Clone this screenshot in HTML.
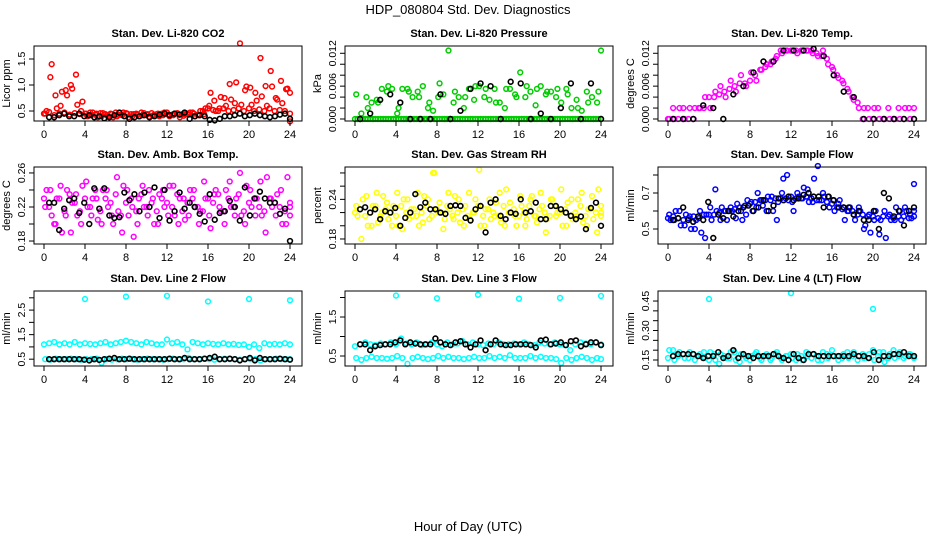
<!DOCTYPE html>
<html><head><meta charset="utf-8"><style>
html,body{margin:0;padding:0;background:#fff;}
svg{display:block;font-family:"Liberation Sans",Arial,sans-serif;}
</style></head>
<body>
<svg id="c" width="936" height="540" viewBox="0 0 936 540">
<text x="468" y="14" text-anchor="middle" font-size="13">HDP_080804  Std. Dev. Diagnostics</text>
<text x="468" y="531" text-anchor="middle" font-size="13">Hour of Day (UTC)</text>
</svg>
<script>
const xTicks=[0,4,8,12,16,20,24];
const co2A=[0.45,1.15,0.8,0.6,0.9,1.0,1.2,0.5,0.45,0.42,0.45,0.4,0.42,0.44,0.4,0.42,0.45,0.4,0.43,0.42,0.44,0.41,0.45,0.42,0.43,0.42,0.44,0.41,0.43,0.45,0.42,0.44,0.6,0.7,0.55,0.75,1.02,0.65,1.8,0.9,0.95,0.85,1.52,0.98,1.27,0.75,1.08,0.92,0.85];
const co2B=[0.5,1.4,0.55,0.87,0.8,0.93,0.62,0.68,0.4,0.47,0.38,0.46,0.4,0.38,0.43,0.47,0.38,0.44,0.4,0.46,0.39,0.43,0.4,0.47,0.4,0.45,0.38,0.44,0.47,0.4,0.5,0.55,0.85,0.5,0.77,0.6,0.72,1.05,0.62,0.97,0.62,0.7,0.78,0.6,0.97,0.72,0.65,0.93,0.3];
const co2C=[0.45,0.48,0.42,0.45,0.47,0.43,0.46,0.44,0.45,0.47,0.43,0.46,0.44,0.45,0.47,0.43,0.46,0.44,0.45,0.47,0.43,0.46,0.44,0.45,0.47,0.43,0.46,0.44,0.45,0.47,0.43,0.5,0.55,0.52,0.5,0.55,0.5,0.52,0.55,0.5,0.55,0.5,0.53,0.5,0.55,0.5,0.52,0.5,0.45];
const co2K=[0.38,0.38,0.42,0.45,0.4,0.4,0.45,0.4,0.42,0.38,0.4,0.36,0.38,0.42,0.47,0.4,0.35,0.38,0.4,0.42,0.38,0.4,0.43,0.45,0.42,0.45,0.43,0.47,0.35,0.4,0.42,0.4,0.33,0.32,0.35,0.4,0.4,0.42,0.45,0.4,0.42,0.45,0.42,0.4,0.38,0.4,0.43,0.45,0.35];
const presA=[0.0045,0.001,0.004,0.003,0.0035,0.0055,0.005,0.0055,0.001,0.0055,0.0055,0.004,0.005,0.006,0.002,0.0015,0.004,0.0045,0.0125,0.003,0.004,0.002,0.0055,0.0035,0.006,0.004,0.0035,0.0055,0.003,0.002,0.0055,0.0045,0.0085,0.004,0.005,0.0025,0.006,0.0045,0.005,0.004,0.003,0.0055,0.002,0.0035,0.0015,0.005,0.004,0.003,0.0125];
const presB=[0,0,0.002,0,0.003,0,0.006,0,0.002,0,0.005,0,0.004,0,0.003,0,0.0065,0,0,0.005,0,0.004,0,0.006,0,0.0055,0,0.003,0,0.0055,0,0.004,0,0.006,0,0.0055,0,0.005,0,0.0055,0,0.0045,0,0.002,0,0.003,0,0.005,0];
const presC=[0,0,0,0,0,0,0,0,0,0,0,0,0,0,0,0,0,0,0,0,0,0,0,0,0,0,0,0,0,0,0,0,0,0,0,0,0,0,0,0,0,0,0,0,0,0,0,0,0,0,0,0,0,0,0,0,0,0,0,0,0,0,0,0,0,0,0,0,0,0,0,0,0,0,0,0,0,0,0,0,0,0,0,0,0,0,0,0,0,0,0,0,0,0,0,0,0];
const presK=[0,0.001,0.0035,0.0045,0.003,0,0,0,0.0045,0,0.0015,0.0055,0.0065,0.006,0,0.0068,0.0065,0,0.001,0,0.002,0.0065,0,0.0065,0];
const tempA=[0,0.002,0,0.002,0,0,0.002,0.002,0.004,0.004,0.0045,0.005,0.0055,0.006,0.0065,0.0065,0.007,0.008,0.009,0.0095,0.010,0.011,0.0125,0.0125,0.0125,0.0125,0.0125,0.0125,0.0125,0.012,0.0115,0.011,0.0095,0.008,0.007,0.0055,0.004,0.003,0,0.002,0,0.002,0,0.002,0,0.002,0,0.002,0.002];
const tempB=[0,0,0.002,0,0.002,0.002,0.002,0.004,0.002,0.005,0.006,0.004,0.007,0.005,0.008,0.006,0.0085,0.007,0.009,0.01,0.0105,0.0115,0.012,0.0125,0.0125,0.012,0.0125,0.0125,0.012,0.0115,0.0125,0.01,0.009,0.0075,0.0065,0.005,0.0035,0.002,0.002,0,0.002,0,0,0,0,0,0.002,0,0];
const tempK=[0,0,0,0.0025,0.002,0,0.0045,0.006,0.0085,0.0105,0.0105,0.0125,0.0125,0.0125,0.0128,0.0115,0.008,0.005,0.004,0,0,0,0,0,0];
const ambA=[0.22,0.24,0.2,0.245,0.21,0.19,0.235,0.2,0.25,0.21,0.23,0.2,0.24,0.21,0.255,0.19,0.24,0.22,0.2,0.245,0.21,0.23,0.2,0.24,0.21,0.245,0.2,0.23,0.21,0.24,0.2,0.25,0.21,0.235,0.22,0.2,0.25,0.21,0.26,0.2,0.24,0.21,0.25,0.19,0.23,0.21,0.24,0.2,0.22];
const ambB=[0.24,0.21,0.23,0.19,0.24,0.225,0.21,0.245,0.22,0.23,0.205,0.24,0.22,0.2,0.215,0.245,0.21,0.185,0.23,0.22,0.24,0.2,0.235,0.22,0.245,0.21,0.23,0.205,0.24,0.22,0.215,0.23,0.195,0.24,0.215,0.24,0.22,0.23,0.21,0.245,0.22,0.23,0.21,0.255,0.22,0.235,0.2,0.255,0.21];
const ambC=[0.23,0.22,0.2,0.23,0.215,0.235,0.225,0.215,0.23,0.22,0.24,0.215,0.23,0.225,0.235,0.21,0.225,0.23,0.215,0.235,0.22,0.225,0.215,0.23,0.225,0.22,0.235,0.215,0.225,0.23,0.22,0.215,0.23,0.225,0.235,0.215,0.23,0.22,0.235,0.215,0.225,0.23,0.22,0.215,0.23,0.225,0.22,0.215,0.225];
const ambK=[0.225,0.225,0.193,0.218,0.228,0.23,0.213,0.225,0.2,0.242,0.218,0.242,0.21,0.207,0.208,0.237,0.228,0.235,0.215,0.237,0.22,0.243,0.207,0.24,0.204,0.215,0.237,0.218,0.225,0.22,0.212,0.203,0.235,0.205,0.213,0.215,0.227,0.22,0.204,0.243,0.21,0.23,0.238,0.23,0.225,0.225,0.212,0.218,0.18];
const rhA=[0.23,0.18,0.245,0.2,0.25,0.22,0.235,0.2,0.25,0.195,0.24,0.215,0.25,0.205,0.24,0.28,0.22,0.195,0.25,0.21,0.24,0.2,0.25,0.22,0.285,0.2,0.24,0.215,0.25,0.2,0.235,0.215,0.245,0.2,0.24,0.215,0.25,0.19,0.24,0.215,0.255,0.2,0.24,0.215,0.25,0.2,0.245,0.19,0.23];
const rhB=[0.215,0.24,0.2,0.23,0.205,0.245,0.21,0.23,0.2,0.24,0.21,0.225,0.2,0.245,0.21,0.28,0.235,0.21,0.225,0.245,0.205,0.23,0.21,0.24,0.2,0.225,0.21,0.235,0.205,0.255,0.22,0.2,0.23,0.21,0.245,0.205,0.23,0.21,0.24,0.22,0.2,0.235,0.21,0.24,0.205,0.225,0.21,0.255,0.22];
const rhC=[0.22,0.225,0.215,0.22,0.23,0.215,0.225,0.22,0.215,0.23,0.22,0.225,0.215,0.22,0.23,0.215,0.225,0.22,0.23,0.215,0.22,0.225,0.215,0.22,0.23,0.215,0.225,0.22,0.215,0.23,0.22,0.225,0.215,0.22,0.23,0.215,0.225,0.22,0.215,0.23,0.22,0.225,0.215,0.22,0.23,0.215,0.225,0.22,0.215];
const rhK=[0.225,0.228,0.22,0.225,0.21,0.222,0.22,0.227,0.2,0.212,0.22,0.248,0.228,0.235,0.225,0.225,0.22,0.218,0.23,0.231,0.23,0.212,0.208,0.225,0.23,0.19,0.235,0.24,0.215,0.21,0.22,0.218,0.24,0.22,0.222,0.235,0.21,0.21,0.23,0.23,0.225,0.22,0.215,0.21,0.214,0.195,0.227,0.235,0.2];
const sfA=[0.58,0.55,0.6,0.52,0.57,0.5,0.6,0.45,0.62,0.72,0.55,0.6,0.62,0.56,0.6,0.58,0.65,0.62,0.66,0.6,0.68,0.55,0.7,0.8,0.65,0.7,0.67,0.72,0.65,0.85,0.7,0.68,0.66,0.64,0.62,0.6,0.58,0.62,0.5,0.58,0.55,0.47,0.6,0.58,0.55,0.6,0.62,0.58,0.75];
const sfB=[0.55,0.6,0.52,0.58,0.5,0.55,0.48,0.58,0.55,0.6,0.62,0.55,0.6,0.64,0.55,0.66,0.6,0.7,0.63,0.68,0.6,0.65,0.78,0.66,0.6,0.68,0.73,0.65,0.78,0.66,0.68,0.62,0.6,0.66,0.55,0.62,0.55,0.6,0.52,0.48,0.6,0.55,0.45,0.55,0.62,0.55,0.6,0.56,0.6];
const sfC=[0.56,0.57,0.56,0.55,0.56,0.57,0.56,0.58,0.58,0.58,0.59,0.6,0.6,0.61,0.62,0.63,0.64,0.65,0.66,0.66,0.66,0.67,0.67,0.67,0.68,0.67,0.67,0.68,0.67,0.66,0.66,0.65,0.64,0.62,0.61,0.6,0.6,0.58,0.58,0.57,0.57,0.56,0.57,0.57,0.56,0.57,0.57,0.56,0.57];
const sfK=[0.55,0.56,0.62,0.55,0.54,0.57,0.55,0.65,0.45,0.58,0.56,0.6,0.57,0.6,0.62,0.63,0.6,0.62,0.66,0.6,0.63,0.67,0.66,0.68,0.66,0.67,0.69,0.7,0.68,0.68,0.62,0.68,0.66,0.62,0.62,0.62,0.58,0.6,0.55,0.55,0.6,0.5,0.7,0.67,0.57,0.6,0.52,0.6,0.62];
const l2A=[1.1,1.15,1.2,1.1,1.15,1.1,1.2,1.1,1.15,1.12,1.1,1.15,1.2,1.1,1.15,1.2,1.25,1.2,1.15,1.1,1.2,1.15,1.1,1.1,1.3,1.15,1.2,1.1,0.9,1.2,1.15,1.1,1.15,1.12,1.1,1.15,1.1,1.12,1.08,1.1,1.0,1.1,0.95,1.15,1.1,1.12,1.1,1.15,1.1];
const l2B=[0.5,0.48,0.52,0.5,0.5,0.52,0.5,0.48,0.5,0.5,0.52,0.35,0.5,0.48,0.5,0.52,0.5,0.5,0.48,0.5,0.52,0.5,0.5,0.48,0.5,0.52,0.5,0.5,0.55,0.5,0.5,0.52,0.5,0.48,0.5,0.52,0.5,0.5,0.48,0.5,0.5,0.5,0.45,0.5,0.5,0.52,0.5,0.5,0.5];
const l2K=[0.5,0.5,0.5,0.5,0.5,0.5,0.5,0.48,0.45,0.5,0.47,0.5,0.52,0.55,0.5,0.5,0.52,0.5,0.5,0.5,0.5,0.5,0.5,0.5,0.52,0.5,0.5,0.55,0.5,0.5,0.5,0.52,0.55,0.6,0.5,0.5,0.52,0.5,0.45,0.5,0.55,0.45,0.55,0.5,0.5,0.5,0.52,0.5,0.48];
const spikeHours=[4,8,12,16,20,24];
const l2Spikes=[2.95,3.05,3.08,2.85,2.95,2.9];
const l3A=[0.75,0.8,0.85,0.8,0.78,0.82,0.8,0.85,0.8,0.95,0.82,0.8,0.85,0.78,0.8,0.85,0.8,0.75,0.85,0.8,0.82,0.88,0.8,0.85,0.8,0.78,0.82,0.8,0.85,0.8,0.8,0.82,0.8,0.85,0.8,0.78,0.85,0.82,0.8,0.85,0.8,0.78,0.65,0.8,0.85,0.82,0.8,0.85,0.8];
const l3B=[0.45,0.4,0.45,0.48,0.45,0.45,0.43,0.45,0.5,0.45,0.3,0.45,0.48,0.45,0.42,0.45,0.5,0.45,0.48,0.45,0.45,0.42,0.45,0.48,0.45,0.45,0.5,0.45,0.48,0.45,0.52,0.45,0.45,0.45,0.5,0.45,0.48,0.45,0.45,0.42,0.32,0.45,0.4,0.45,0.48,0.45,0.4,0.45,0.42];
const l3K=[0.8,0.8,0.65,0.75,0.78,0.8,0.8,0.85,0.9,0.8,0.85,0.82,0.8,0.8,0.8,0.95,0.85,0.8,0.78,0.85,0.88,0.8,0.72,0.8,0.9,0.65,0.8,0.9,0.8,0.78,0.78,0.8,0.8,0.8,0.78,0.72,0.9,0.92,0.8,0.82,0.85,0.78,0.88,0.9,0.75,0.8,0.85,0.85,0.78];
const l3Spikes=[2.05,1.98,2.07,1.97,1.99,2.04];
const l4A=[0.16,0.2,0.17,0.18,0.16,0.18,0.17,0.19,0.15,0.18,0.13,0.17,0.16,0.19,0.14,0.17,0.15,0.18,0.16,0.17,0.15,0.18,0.16,0.17,0.18,0.15,0.17,0.19,0.16,0.17,0.15,0.18,0.2,0.17,0.16,0.19,0.17,0.15,0.18,0.16,0.2,0.17,0.19,0.16,0.2,0.17,0.16,0.18,0.16];
const l4B=[0.2,0.15,0.19,0.16,0.19,0.15,0.18,0.16,0.19,0.15,0.18,0.16,0.19,0.15,0.18,0.16,0.17,0.19,0.15,0.18,0.16,0.19,0.15,0.17,0.16,0.18,0.15,0.17,0.18,0.15,0.19,0.16,0.17,0.15,0.18,0.16,0.19,0.17,0.16,0.18,0.15,0.19,0.14,0.18,0.16,0.19,0.17,0.18,0.17];
const l4K=[0.17,0.18,0.18,0.18,0.18,0.17,0.16,0.17,0.17,0.19,0.16,0.17,0.2,0.16,0.18,0.17,0.16,0.17,0.17,0.17,0.18,0.17,0.16,0.15,0.18,0.16,0.15,0.18,0.18,0.17,0.17,0.17,0.17,0.17,0.17,0.17,0.18,0.17,0.17,0.16,0.19,0.15,0.17,0.17,0.18,0.18,0.19,0.17,0.17];
const l4SpikeHours=[4,12,20];
const l4Spikes=[0.46,0.49,0.41];

const NS='http://www.w3.org/2000/svg';
const svg=document.getElementById('c');
const colL=[34,345,658], rowT=[46,167,291], rowB=[121,244,366], W=268;
function mk(tag,attrs,parent){const e=document.createElementNS(NS,tag);for(const k in attrs)e.setAttribute(k,attrs[k]);(parent||svg).appendChild(e);return e;}
const panels=[
 {c:0,r:0,t:'Stan. Dev. Li-820 CO2',yl:'Licor ppm',y0:0.308,y1:1.75,ticks:[0.5,1.0,1.5],lab:['0.5','1.0','1.5'],col:'#ff0000',sets:[co2C,co2A,co2B],k:co2K},
 {c:1,r:0,t:'Stan. Dev. Li-820 Pressure',yl:'kPa',y0:-0.000365,y1:0.01333,ticks:[0,0.002,0.004,0.006,0.008,0.01,0.012],lab:['0.000','','','0.006','','','0.012'],col:'#00cc00',sets:[presC,presA,presB],k:presK},
 {c:2,r:0,t:'Stan. Dev. Li-820 Temp.',yl:'degrees C',y0:-0.000365,y1:0.01333,ticks:[0,0.002,0.004,0.006,0.008,0.01,0.012],lab:['0.000','','','0.006','','','0.012'],col:'#ff00ff',sets:[tempA,tempB],k:tempK},
 {c:0,r:1,t:'Stan. Dev. Amb. Box Temp.',yl:'degrees C',y0:0.1765,y1:0.267,ticks:[0.18,0.2,0.22,0.24,0.26],lab:['0.18','','0.22','','0.26'],col:'#ff00ff',sets:[ambC,ambA,ambB],k:ambK},
 {c:1,r:1,t:'Stan. Dev. Gas Stream RH',yl:'percent',y0:0.1724,y1:0.289,ticks:[0.18,0.2,0.22,0.24,0.26,0.28],lab:['0.18','','','0.24','',''],col:'#ffff00',sets:[rhC,rhA,rhB],k:rhK},
 {c:2,r:1,t:'Stan. Dev. Sample Flow',yl:'ml/min',y0:0.4167,y1:0.8444,ticks:[0.5,0.6,0.7,0.8],lab:['0.5','','0.7',''],col:'#0000ff',sets:[sfC,sfA,sfB],k:sfK},
 {c:0,r:2,t:'Stan. Dev. Line 2 Flow',yl:'ml/min',y0:0.222,y1:3.278,ticks:[0.5,1,1.5,2,2.5,3],lab:['0.5','','1.5','','2.5',''],col:'#00ffff',sets:[l2A,l2B],k:l2K,sx:spikeHours,sy:l2Spikes},
 {c:1,r:2,t:'Stan. Dev. Line 3 Flow',yl:'ml/min',y0:0.244,y1:2.167,ticks:[0.5,1,1.5,2],lab:['0.5','','1.5',''],col:'#00ffff',sets:[l3A,l3B],k:l3K,sx:spikeHours,sy:l3Spikes},
 {c:2,r:2,t:'Stan. Dev. Line 4 (LT) Flow',yl:'ml/min',y0:0.1195,y1:0.501,ticks:[0.15,0.2,0.25,0.3,0.35,0.4,0.45],lab:['0.15','','','0.30','','','0.45'],col:'#00ffff',sets:[l4A,l4B],k:l4K,sx:l4SpikeHours,sy:l4Spikes}
];
panels.forEach((p,pi)=>{
 const L=colL[p.c],T=rowT[p.r],B=rowB[p.r];
 const g=mk('g',{});
 
 
 const xs=h=>L+10+h*10.25;
 const ys=v=>B-(v-p.y0)/(p.y1-p.y0)*(B-T);
 const ti=mk('text',{x:L+W/2,y:T-9,'text-anchor':'middle','font-size':11,'font-weight':'bold'},g);ti.textContent=p.t;
 
 
 const cg=mk('g',{stroke:p.col,fill:'none','stroke-width':1.5},g);
 
 
 p.sets.forEach((arr,si)=>{
   const off=si===1?0.12:(si===2?0.25:0);
   arr.forEach((v,i)=>{const h=Math.min(24,i*24/(arr.length-1)+off);
     const ci=mk('circle',{cx:xs(h),cy:ys(v),r:2.4},cg);
     
     });
 });
 if(p.sx){p.sx.forEach((h,i)=>{const ci=mk('circle',{cx:xs(h),cy:ys(p.sy[i]),r:2.4},cg);
   
   });}
 const kg=mk('g',{stroke:'#000',fill:'none','stroke-width':1.6},g);
 
 
 p.k.forEach((v,i)=>{const h=Math.min(24,0.5+i*23.5/(p.k.length-1));
   const ci=mk('circle',{cx:xs(h),cy:ys(v),r:2.4},kg);
   
   });
 const bx=mk('rect',{x:L,y:T,width:W,height:B-T,fill:'none',stroke:'#000','stroke-width':1},g);
 
 
 xTicks.forEach(h=>{mk('line',{x1:xs(h),x2:xs(h),y1:B,y2:B+5,stroke:'#000'},g);
   const t=mk('text',{x:xs(h),y:B+17,'text-anchor':'middle','font-size':11},g);t.textContent=h;
   
   });
 p.ticks.forEach((v,i)=>{const y=ys(v);mk('line',{x1:L-5,x2:L,y1:y,y2:y,stroke:'#000'},g);
   if(p.lab[i]){const t=mk('text',{x:0,y:0,'text-anchor':'middle','font-size':10.5,transform:`translate(${L-9},${y}) rotate(-90)`},g);t.textContent=p.lab[i];
   
   }});
 const yt=mk('text',{x:0,y:0,'text-anchor':'middle','font-size':11,transform:`translate(${L-24},${(T+B)/2}) rotate(-90)`},g);yt.textContent=p.yl;
 
 
});
</script>
</body></html>
